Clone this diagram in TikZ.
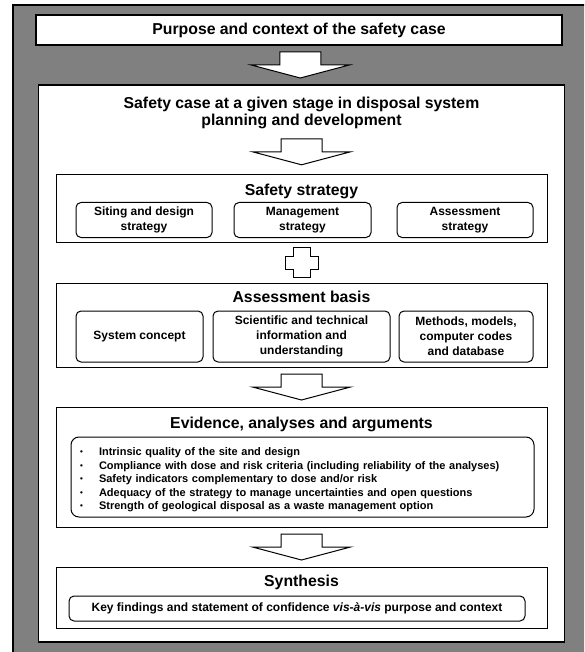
\documentclass[tikz,border=0pt]{standalone}
\usepackage{fontspec}
\setmainfont{Liberation Sans}
\usepackage{tikz}
\usetikzlibrary{positioning,calc}
\newcommand{\evitem}[1]{\makebox[19pt][l]{\raisebox{1pt}{\fontsize{8}{8}\selectfont\textbullet}}#1}
\tikzset{
    frame-box/.style = {draw=black, fill=gray, line width=1.5pt, rectangle, inner sep=0pt},
    main-box/.style = {draw=black, fill=white, line width=1.2pt, rectangle, inner sep=0pt, font=\fontsize{15.8}{17.5}\selectfont\bfseries},
    part-box/.style = {draw=black, fill=white, line width=1pt, rectangle, inner sep=0pt},
    rounded-box/.style = {draw=black, fill=white, line width=1pt, rectangle, rounded corners=5pt, align=center, inner sep=0pt, font=\fontsize{12}{15}\selectfont\bfseries},
    box-title/.style = {font=\fontsize{15.8}{17.5}\selectfont\bfseries, align=center, inner sep=0pt},
    down-arrow/.pic = {\draw[fill=white, line width=1pt] (-20.5,-13) -- (20.5,-13) -- (20.5,0) -- (49,0) -- (0,13) -- (-49,0) -- (-20.5,0) -- cycle;},
    plus-sign/.pic = {\draw[fill=white, line width=1pt] (-8.5,-15) -- (8.5,-15) -- (8.5,-6.5) -- (16.5,-6.5) -- (16.5,6.5) -- (8.5,6.5) -- (8.5,15) -- (-8.5,15) -- (-8.5,6.5) -- (-16.5,6.5) -- (-16.5,-6.5) -- (-8.5,-6.5) -- cycle;},
}

\begin{document}
\begin{tikzpicture}[x=1pt, y=-1pt]
\useasboundingbox (0,0) rectangle (584,652);
\clip (0,0) rectangle (584,652);
\node[frame-box, minimum width=600pt, minimum height=680pt] (frame) at (313,345) {};

\node[main-box, minimum width=526pt, minimum height=30pt] (purpose) at (299,30) {Purpose and context of the safety case};
\node[main-box, minimum width=526pt, minimum height=557pt] (case) at (301.5,363.5) {};
\node[box-title, below=12pt] (case-title) at (case.north) {Safety case at a given stage in disposal system\\planning and development};

\node[part-box, minimum width=491pt, minimum height=67pt] (strategy) at (301.5,208.5) {};
\node[box-title, below=9pt] at (strategy.north) {Safety strategy};
\node[rounded-box, minimum width=136pt, minimum height=35pt] (siting) at (144,220) {Siting and design\\strategy};
\node[rounded-box, minimum width=137pt, minimum height=35pt] (management) at (302.5,220) {Management\\strategy};
\node[rounded-box, minimum width=136pt, minimum height=35pt] (assessment) at (465,220) {Assessment\\strategy};

\node[part-box, minimum width=491pt, minimum height=84pt] (basis) at (301.5,325) {};
\node[box-title, below=8pt] at (basis.north) {Assessment basis};
\node[rounded-box, minimum width=127pt, minimum height=51pt] (concept) at (139.5,336.5) {System concept};
\node[rounded-box, minimum width=177pt, minimum height=51pt] (science) at (301.5,336.5) {Scientific and technical\\information and\\understanding};
\node[rounded-box, minimum width=134pt, minimum height=51pt] (methods) at (466,336.5) {Methods, models,\\computer codes\\and database};

\node[part-box, minimum width=491pt, minimum height=120pt] (evidence) at (301.5,467) {};
\node[box-title, below=10pt] at (evidence.north) {Evidence, analyses and arguments};
\node[rounded-box, rounded corners=8pt, align=left, text width=445pt, inner xsep=9pt, minimum height=80pt, font=\fontsize{11}{13.5}\selectfont\bfseries] (criteria) at (302.5,477) {%
    \rule{0pt}{14pt}\evitem{Intrinsic quality of the site and design}\\
    \evitem{Compliance with dose and risk criteria (including reliability of the analyses)}\\
    \evitem{Safety indicators complementary to dose and/or risk}\\
    \evitem{Adequacy of the strategy to manage uncertainties and open questions}\\
    \evitem{Strength of geological disposal as a waste management option}};

\node[part-box, minimum width=491pt, minimum height=61pt] (synthesis) at (301.5,597.5) {};
\node[box-title, below=8pt] at (synthesis.north) {Synthesis};
\node[rounded-box, minimum width=456pt, minimum height=25pt] (findings) at (297,608.5) {Key findings and statement of confidence \textit{vis-à-vis} purpose and context};

\pic at ($(purpose.south)!0.5!(case.north)$) {down-arrow};
\pic at ($(case-title.south)!0.5!(strategy.north)$) {down-arrow};
\pic at ($(strategy.south)!0.5!(basis.north)$) {plus-sign};
\pic at ($(basis.south)!0.5!(evidence.north)$) {down-arrow};
\pic at ($(evidence.south)!0.5!(synthesis.north)$) {down-arrow};
\end{tikzpicture}
\end{document}
